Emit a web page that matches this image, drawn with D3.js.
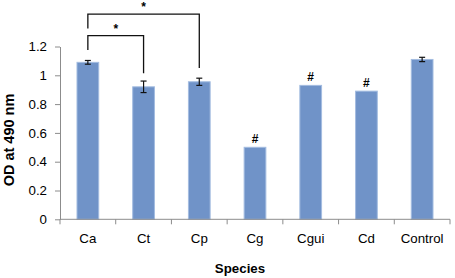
<!DOCTYPE html>
<html><head><meta charset="utf-8">
<script src="https://cdn.jsdelivr.net/npm/d3@7"></script>
<style>body{margin:0;background:#fff}svg{display:block}</style>
</head><body>
<svg id="c" width="455" height="278"></svg>
<script>
const categories = ["Ca","Ct","Cp","Cg","Cgui","Cd","Control"];
const values = [1.09, 0.92, 0.955, 0.50, 0.93, 0.89, 1.11];
const errors = [0.013, 0.04, 0.025, 0, 0, 0, 0.015];
const marks = ["", "", "", "#", "#", "#", ""];
const yTicks = [0, 0.2, 0.4, 0.6, 0.8, 1, 1.2];
const brackets = [{from:"Ca", to:"Ct", level:1.275, endTo:1.015, endFrom:1.175, label:"*"},
                  {from:"Ca", to:"Cp", level:1.425, endTo:1.05, endFrom:1.325, label:"*"}];

const svg = d3.select("#c");
const m = {l:60};
const x = d3.scaleBand().domain(categories).range([m.l, 450]).paddingInner(0.61).paddingOuter(0.305);
const y = d3.scaleLinear().domain([0, 1.2]).range([219.3, 46.5]);
const font = "Liberation Sans, Arial, sans-serif";
const axisColor = "#8c8c8c";

// bars
svg.selectAll("rect.bar").data(values).enter().append("rect")
  .attr("x", (d,i)=>x(categories[i]))
  .attr("y", d=>y(d))
  .attr("width", x.bandwidth())
  .attr("height", d=>y(0)-y(d))
  .attr("fill", "#7093c8")
  .attr("stroke", "#a3bce0")
  .attr("stroke-width", 1);

// error bars
const eg = svg.append("g").attr("stroke", "#111").attr("stroke-width", 1.2);
values.forEach((v,i)=>{
  const e = errors[i]; if (!e) return;
  const cx = x(categories[i]) + x.bandwidth()/2;
  eg.append("line").attr("x1",cx).attr("x2",cx).attr("y1",y(v+e)).attr("y2",y(v-e));
  eg.append("line").attr("x1",cx-3).attr("x2",cx+3).attr("y1",y(v+e)).attr("y2",y(v+e));
  eg.append("line").attr("x1",cx-3).attr("x2",cx+3).attr("y1",y(v-e)).attr("y2",y(v-e));
});

// # marks
svg.selectAll("text.mark").data(values).enter().append("text")
  .attr("x", (d,i)=>x(categories[i]) + x.bandwidth()/2)
  .attr("y", d=>y(d)-4)
  .attr("text-anchor","middle")
  .attr("font-family", font).attr("font-size", 12).attr("font-weight","bold")
  .text((d,i)=>marks[i]);

// y axis
const yAxis = svg.append("g").attr("transform", `translate(${m.l},0)`)
  .call(d3.axisLeft(y).tickValues(yTicks).tickSize(5).tickSizeOuter(0).tickPadding(8).tickFormat(d=>d3.format("")(d)));
yAxis.selectAll("path,line").attr("stroke", axisColor);
yAxis.selectAll("text").attr("font-family", font).attr("font-size", 13.3).attr("fill","#000");

// x axis
const xTickScale = d3.scaleLinear().domain([0, categories.length]).range([m.l, 450]);
const xAxis = svg.append("g").attr("transform", `translate(0,${y(0)})`);
xAxis.append("line").attr("x1", m.l).attr("x2", 450).attr("stroke", axisColor);
xAxis.selectAll("line.t").data(d3.range(categories.length+1)).enter().append("line")
  .attr("x1", d=>xTickScale(d)).attr("x2", d=>xTickScale(d)).attr("y1",0).attr("y2",5).attr("stroke",axisColor);
xAxis.selectAll("text").data(categories).enter().append("text")
  .attr("x", d=>x(d)+x.bandwidth()/2).attr("y", 23.5)
  .attr("text-anchor","middle").attr("font-family",font).attr("font-size",13.3).text(d=>d);

// brackets
const bg = svg.append("g").attr("stroke","#111").attr("stroke-width",1.3).attr("fill","none");
brackets.forEach(b=>{
  const x1 = x(b.from)+x.bandwidth()/2, x2 = x(b.to)+x.bandwidth()/2;
  bg.append("path").attr("d", `M${x1},${y(b.endFrom)}V${y(b.level)}H${x2}V${y(b.endTo)}`);
  svg.append("text").attr("x",(x1+x2)/2).attr("y", y(b.level)-3)
    .attr("text-anchor","middle").attr("font-family",font).attr("font-size",12).attr("font-weight","bold").text(b.label);
});

// axis titles
svg.append("text").attr("transform","translate(13.5,140) rotate(-90)")
  .attr("text-anchor","middle").attr("font-family",font).attr("font-size",14.5).attr("font-weight","bold").text("OD at 490 nm");
svg.append("text").attr("x",240).attr("y",273)
  .attr("text-anchor","middle").attr("font-family",font).attr("font-size",13.3).attr("font-weight","bold").text("Species");
</script>
</body></html>
